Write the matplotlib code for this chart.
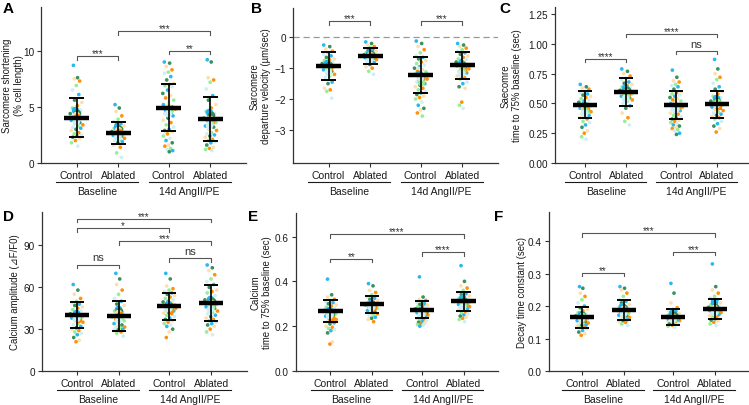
import matplotlib
matplotlib.use('Agg')
import matplotlib.pyplot as plt
import numpy as np

plt.rcParams['font.family'] = ['Liberation Sans', 'DejaVu Sans']

# ---------------- data ----------------
group_labels = ['Control', 'Ablated', 'Control', 'Ablated']
condition_labels = ['Baseline', '14d AngII/PE']
xpos = [1.0, 2.0, 3.2, 4.2]

# Panel A: sarcomere shortening (% cell length)
A_ctrl_base = [8.7, 7.6, 7.5, 7.3, 6.9, 6.5, 6.1, 5.6, 5.4, 5.1, 4.9, 4.7, 4.5, 4.4, 4.3, 4.1, 4.0, 3.9,
               3.8, 3.6, 3.5, 3.4, 3.3, 3.2, 3.1, 3.0, 2.9, 2.7, 2.6, 2.5, 2.4, 2.3, 2.2, 2.0, 1.8, 1.5]
A_abl_base = [5.2, 4.9, 4.6, 4.2, 3.9, 3.7, 3.5, 3.4, 3.3, 3.2, 3.1, 3.0, 2.9, 2.8, 2.75, 2.7, 2.6, 2.5,
              2.45, 2.4, 2.3, 2.2, 2.1, 2.0, 1.9, 1.8, 1.6, 1.4, 0.9, 0.5]
A_ctrl_ang = [9.0, 8.9, 8.6, 8.3, 8.1, 8.0, 7.7, 7.4, 7.1, 7.0, 6.9, 6.8, 6.5, 6.2, 6.0, 5.8, 5.6, 5.4,
              5.2, 5.0, 4.9, 4.8, 4.6, 4.4, 4.2, 4.0, 3.8, 3.6, 3.4, 3.2, 3.0, 2.9, 2.8, 2.6, 2.4, 2.2,
              2.0, 1.8, 1.6, 1.5, 1.3, 1.2, 1.1, 1.0]
A_abl_ang = [9.2, 9.0, 7.6, 7.4, 7.2, 6.6, 6.0, 5.6, 5.2, 4.9, 4.6, 4.4, 4.2, 4.0, 3.9, 3.8, 3.6, 3.5,
             3.3, 3.2, 3.0, 2.9, 2.7, 2.6, 2.5, 2.4, 2.3, 2.1, 2.0, 1.9, 1.8, 1.6, 1.4, 1.3, 1.2, 1.1]
A_mean = [4.05, 2.70, 4.92, 3.94]
A_sd = [1.71, 0.97, 2.10, 1.96]

# Panel B: sarcomere departure velocity (um/sec)
B_ctrl_base = [-0.25, -0.3, -0.38, -0.45, -0.5, -0.55, -0.6, -0.65, -0.7, -0.72, -0.75, -0.8, -0.82,
               -0.85, -0.9, -0.92, -0.95, -1.0, -1.05, -1.1, -1.15, -1.2, -1.25, -1.3, -1.45, -1.5,
               -1.65, -1.7, -1.75, -1.97]
B_abl_base = [-0.15, -0.2, -0.25, -0.3, -0.33, -0.36, -0.4, -0.42, -0.45, -0.48, -0.5, -0.52, -0.55,
              -0.57, -0.58, -0.6, -0.62, -0.64, -0.66, -0.68, -0.7, -0.72, -0.75, -0.78, -0.82,
              -0.88, -0.95, -1.0, -1.1, -1.2]
B_ctrl_ang = [-0.12, -0.2, -0.3, -0.4, -0.5, -0.6, -0.65, -0.7, -0.75, -0.8, -0.85, -0.9, -0.95, -1.0,
              -1.05, -1.1, -1.12, -1.15, -1.2, -1.25, -1.3, -1.35, -1.4, -1.45, -1.5, -1.55, -1.6,
              -1.65, -1.7, -1.75, -1.8, -1.85, -1.9, -1.95, -2.0, -2.1, -2.2, -2.3, -2.35, -2.45,
              -2.55, -1.0, -1.2, -1.4]
B_abl_ang = [-0.2, -0.25, -0.3, -0.35, -0.4, -0.45, -0.5, -0.55, -0.6, -0.65, -0.7, -0.72, -0.75,
             -0.8, -0.82, -0.85, -0.88, -0.9, -0.92, -0.95, -1.0, -1.02, -1.05, -1.1, -1.15, -1.2,
             -1.25, -1.3, -1.35, -1.45, -1.5, -1.6, -1.65, -2.1, -2.2, -2.3]
B_mean = [-0.93, -0.59, -1.22, -0.91]
B_sd = [0.44, 0.26, 0.58, 0.45]

# Panel C: sarcomere time to 75% baseline (sec)
C_ctrl_base = [0.66, 0.64, 0.63, 0.62, 0.6, 0.59, 0.58, 0.57, 0.56, 0.55, 0.54, 0.53, 0.52, 0.51,
               0.5, 0.49, 0.48, 0.47, 0.46, 0.45, 0.44, 0.43, 0.42, 0.41, 0.4, 0.39, 0.38, 0.37,
               0.35, 0.34, 0.32, 0.3, 0.27, 0.25, 0.22, 0.2]
C_abl_base = [0.79, 0.77, 0.75, 0.73, 0.71, 0.7, 0.68, 0.67, 0.66, 0.65, 0.64, 0.63, 0.62, 0.61,
              0.6, 0.59, 0.58, 0.57, 0.56, 0.55, 0.54, 0.53, 0.52, 0.5, 0.48, 0.46, 0.42, 0.38,
              0.35, 0.32]
C_ctrl_ang = [0.78, 0.72, 0.69, 0.68, 0.66, 0.65, 0.64, 0.62, 0.6, 0.59, 0.58, 0.57, 0.56, 0.55,
              0.54, 0.53, 0.52, 0.51, 0.5, 0.49, 0.48, 0.47, 0.46, 0.45, 0.44, 0.43, 0.42, 0.41,
              0.4, 0.39, 0.38, 0.37, 0.36, 0.35, 0.34, 0.33, 0.32, 0.31, 0.3, 0.29, 0.28, 0.27,
              0.25, 0.24]
C_abl_ang = [0.87, 0.79, 0.75, 0.72, 0.7, 0.67, 0.64, 0.62, 0.6, 0.58, 0.56, 0.55, 0.54, 0.52,
             0.51, 0.5, 0.49, 0.48, 0.47, 0.46, 0.45, 0.44, 0.43, 0.42, 0.41, 0.4, 0.39, 0.38,
             0.37, 0.35, 0.33, 0.31, 0.29, 0.26]
C_mean = [0.49, 0.595, 0.49, 0.493]
C_sd = [0.112, 0.115, 0.118, 0.113]

# Panel D: calcium amplitude
D_ctrl_base = [62, 58, 55, 52, 50, 49, 48, 47, 46, 45, 44, 43, 42, 41, 40.5, 40, 39, 38.5, 38, 37,
               36, 35, 34, 33, 32, 31, 30, 29, 28, 27, 26, 24, 22, 21]
D_abl_base = [70, 66, 62, 58, 55, 52, 50, 48, 47, 45, 43, 42, 40, 39, 38, 37, 36, 35, 34, 33, 32,
              31.5, 31, 30.5, 30, 29.5, 29, 28, 27, 25]
D_ctrl_ang = [70, 66, 61, 59, 58, 57, 56, 55, 54, 53, 52, 51, 50, 49.5, 49, 48, 47.5, 47, 46.5, 46,
              45.5, 45, 44, 43.5, 43, 42, 41.5, 41, 40, 39, 38, 37, 36, 35, 34, 33, 32, 30, 28, 24]
D_abl_ang = [76, 74, 72, 69, 66, 64, 62, 60, 58, 57, 56, 54, 52, 51, 50, 49, 48, 47, 46, 45, 44,
             43, 42, 41, 40, 39, 38, 37, 36, 35, 34, 33, 32, 30, 28, 26]
D_mean = [40.0, 39.5, 46.3, 48.8]
D_sd = [9.2, 10.8, 9.5, 13.0]

# Panel E: calcium time to 75% baseline (sec)
E_ctrl_base = [0.41, 0.34, 0.33, 0.32, 0.315, 0.31, 0.305, 0.3, 0.295, 0.29, 0.285, 0.28, 0.275,
               0.27, 0.265, 0.26, 0.255, 0.25, 0.245, 0.24, 0.235, 0.23, 0.225, 0.22, 0.215, 0.21,
               0.2, 0.195, 0.19, 0.185, 0.18, 0.17, 0.13, 0.12]
E_abl_base = [0.39, 0.38, 0.36, 0.35, 0.34, 0.33, 0.325, 0.32, 0.315, 0.31, 0.305, 0.3, 0.298,
              0.295, 0.29, 0.285, 0.28, 0.275, 0.27, 0.265, 0.26, 0.255, 0.25, 0.245, 0.24, 0.235,
              0.23, 0.22]
E_ctrl_ang = [0.42, 0.33, 0.32, 0.315, 0.31, 0.305, 0.3, 0.297, 0.294, 0.29, 0.287, 0.284, 0.28,
              0.277, 0.274, 0.27, 0.267, 0.264, 0.26, 0.257, 0.254, 0.25, 0.247, 0.244, 0.24,
              0.237, 0.234, 0.23, 0.227, 0.224, 0.22, 0.217, 0.214, 0.21, 0.207, 0.204, 0.2, 0.26]
E_abl_ang = [0.47, 0.4, 0.38, 0.37, 0.36, 0.35, 0.345, 0.34, 0.335, 0.33, 0.325, 0.32, 0.317,
             0.314, 0.31, 0.307, 0.304, 0.3, 0.297, 0.294, 0.29, 0.287, 0.284, 0.28, 0.277, 0.274,
             0.27, 0.265, 0.26, 0.255, 0.25, 0.245, 0.24, 0.235, 0.23, 0.22]
E_mean = [0.268, 0.298, 0.274, 0.311]
E_sd = [0.050, 0.038, 0.038, 0.043]

# Panel F: decay time constant (sec)
F_ctrl_base = [0.26, 0.255, 0.24, 0.23, 0.22, 0.21, 0.2, 0.195, 0.19, 0.185, 0.18, 0.177, 0.174,
               0.17, 0.167, 0.164, 0.161, 0.158, 0.155, 0.152, 0.15, 0.148, 0.146, 0.144, 0.142,
               0.14, 0.138, 0.136, 0.134, 0.13, 0.125, 0.12, 0.115, 0.11]
F_abl_base = [0.26, 0.255, 0.25, 0.24, 0.23, 0.22, 0.215, 0.21, 0.205, 0.2, 0.197, 0.194, 0.19,
              0.187, 0.184, 0.181, 0.178, 0.175, 0.172, 0.17, 0.168, 0.165, 0.162, 0.16, 0.158,
              0.155, 0.152, 0.15, 0.145, 0.14]
F_ctrl_ang = [0.27, 0.24, 0.21, 0.195, 0.19, 0.187, 0.184, 0.181, 0.178, 0.176, 0.174, 0.172, 0.17,
              0.168, 0.166, 0.164, 0.162, 0.16, 0.158, 0.157, 0.156, 0.155, 0.154, 0.153, 0.152,
              0.151, 0.15, 0.149, 0.148, 0.147, 0.146, 0.145, 0.143, 0.141, 0.138, 0.135]
F_abl_ang = [0.33, 0.26, 0.25, 0.24, 0.23, 0.225, 0.22, 0.215, 0.21, 0.207, 0.204, 0.2, 0.198,
             0.196, 0.194, 0.192, 0.19, 0.188, 0.186, 0.184, 0.182, 0.18, 0.178, 0.176, 0.174,
             0.172, 0.17, 0.168, 0.165, 0.162, 0.16, 0.157, 0.154, 0.15, 0.145, 0.14]
F_mean = [0.165, 0.187, 0.166, 0.192]
F_sd = [0.031, 0.031, 0.024, 0.031]

# significance brackets: (group i, group j, y, label)
A_sig = [(0, 1, 9.5, '***'), (1, 3, 11.75, '***'), (2, 3, 10.0, '**')]
B_sig = [(0, 1, 0.52, '***'), (2, 3, 0.52, '***')]
C_sig = [(0, 1, 0.875, '****'), (1, 3, 1.085, '****'), (2, 3, 0.94, 'ns')]
D_sig = [(0, 3, 109.0, '***'), (0, 2, 102.5, '*'), (1, 3, 93.0, '***'), (0, 1, 76.3, 'ns'), (2, 3, 81.0, 'ns')]
E_sig = [(0, 1, 0.50, '**'), (0, 3, 0.611, '****'), (2, 3, 0.529, '****')]
F_sig = [(0, 1, 0.303, '**'), (0, 3, 0.424, '***'), (2, 3, 0.368, '***')]

A_ylabel = 'Sarcomere shortening\n(% cell length)'
B_ylabel = 'Sarcomere\ndeparture velocity (\u00b5m/sec)'
C_ylabel = 'Saecomre\ntime to 75% baseline (sec)'
D_ylabel = 'Calcium amplitude (\u22bfF/F0)'
E_ylabel = 'Calcium\ntime to 75% baseline (sec)'
F_ylabel = 'Decay time constant (sec)'

# ---------------- style ----------------
palette = ['#1FB4F0', '#2E8B57', '#FFDDA8', '#FF8C00', '#90EE90', '#CDEFF6']
W, H = 749, 406
fig = plt.figure(figsize=(W / 100, H / 100), dpi=100)

panels = [
    dict(letter='A', box=(41, 8, 246, 164), xlim=(0.15, 5.05), ylim=(0, 13.9), yticks=[0, 5, 10],
         yfmt='{:g}', data=[A_ctrl_base, A_abl_base, A_ctrl_ang, A_abl_ang], mean=A_mean, sd=A_sd,
         sig=A_sig, ylabel=A_ylabel, lblx=13, lpos=(3, 2), dashed=False),
    dict(letter='B', box=(293, 9, 498, 164), xlim=(0.15, 5.05), ylim=(-4.07, 0.95), yticks=[-3, -2, -1, 0],
         yfmt='{:g}', data=[B_ctrl_base, B_abl_base, B_ctrl_ang, B_abl_ang], mean=B_mean, sd=B_sd,
         sig=B_sig, ylabel=B_ylabel, lblx=260, lpos=(251, 2), dashed=True),
    dict(letter='C', box=(555, 8, 748, 164), xlim=(0.27, 4.95), ylim=(0, 1.31),
         yticks=[0, 0.25, 0.5, 0.75, 1.0, 1.25], yfmt='{:.2f}',
         data=[C_ctrl_base, C_abl_base, C_ctrl_ang, C_abl_ang], mean=C_mean, sd=C_sd,
         sig=C_sig, ylabel=C_ylabel, lblx=511, lpos=(499, 2), dashed=False),
    dict(letter='D', box=(42, 213, 247, 372), xlim=(0.17, 5.05), ylim=(0, 114), yticks=[0, 30, 60, 90],
         yfmt='{:g}', data=[D_ctrl_base, D_abl_base, D_ctrl_ang, D_abl_ang], mean=D_mean, sd=D_sd,
         sig=D_sig, ylabel=D_ylabel, lblx=15, lpos=(3, 210), dashed=False),
    dict(letter='E', box=(296, 214, 498, 372), xlim=(0.17, 5.03), ylim=(0, 0.705), yticks=[0, 0.2, 0.4, 0.6],
         yfmt='{:.1f}', data=[E_ctrl_base, E_abl_base, E_ctrl_ang, E_abl_ang], mean=E_mean, sd=E_sd,
         sig=E_sig, ylabel=E_ylabel, lblx=261, lpos=(248, 210), dashed=False),
    dict(letter='F', box=(549, 213, 748, 372), xlim=(0.2, 5.0), ylim=(0, 0.49), yticks=[0, 0.1, 0.2, 0.3, 0.4],
         yfmt='{:.1f}', data=[F_ctrl_base, F_abl_base, F_ctrl_ang, F_abl_ang], mean=F_mean, sd=F_sd,
         sig=F_sig, ylabel=F_ylabel, lblx=522, lpos=(494, 210), dashed=False),
]

phi = 0.6180339887
spine_col = '#333333'
for p in panels:
    l, t, r, b = p['box']
    ax = fig.add_axes([l / W, 1 - b / H, (r - l) / W, (b - t) / H])
    ax.set_xlim(*p['xlim'])
    ax.set_ylim(*p['ylim'])
    yr = p['ylim'][1] - p['ylim'][0]
    for s in ['top', 'right']:
        ax.spines[s].set_visible(False)
    for s in ['left', 'bottom']:
        ax.spines[s].set_color(spine_col)
        ax.spines[s].set_linewidth(0.9)
    if p['dashed']:
        ax.axhline(0, color='#999999', lw=0.9, ls=(0, (5, 3)), zorder=1)
    for gi, vals in enumerate(p['data']):
        vals = np.asarray(vals, dtype=float)
        n = len(vals)
        idx = np.arange(n)
        # deterministic spread (low-discrepancy), narrower for values far from the centre
        frac = (idx * phi) % 1.0 - 0.5
        z = np.abs(vals - p['mean'][gi]) / (2.2 * p['sd'][gi])
        width = 0.17 * np.clip(1.0 - 0.45 * z, 0.35, 1.0)
        xs = xpos[gi] + frac * 2 * width
        cols = [palette[i % len(palette)] for i in idx]
        ax.scatter(xs, vals, s=7, c=cols, linewidths=0, alpha=0.95, zorder=2)
        # animal means (large dots)
        for ci, col in enumerate(palette):
            sel = vals[idx % len(palette) == ci]
            if len(sel):
                off = ((ci * phi) % 1.0 - 0.5) * 0.06
                ax.scatter([xpos[gi] + off], [sel.mean()], s=30, color=col, linewidths=0, zorder=3)
        m, sd = p['mean'][gi], p['sd'][gi]
        ax.plot([xpos[gi], xpos[gi]], [m - sd, m + sd], color='black', lw=1.2, zorder=4)
        for yy in (m - sd, m + sd):
            ax.plot([xpos[gi] - 0.17, xpos[gi] + 0.17], [yy, yy], color='black', lw=1.4, zorder=4,
                    solid_capstyle='butt')
        ax.plot([xpos[gi] - 0.29, xpos[gi] + 0.29], [m, m], color='black', lw=3.2, zorder=5,
                solid_capstyle='butt')
    for (i, j, yb, txt) in p['sig']:
        x1, x2 = xpos[i], xpos[j]
        d = 0.022 * yr
        ax.plot([x1, x1, x2, x2], [yb - d, yb, yb, yb - d], color='#555555', lw=0.8, zorder=1)
        if txt == 'ns':
            ax.annotate(txt, xy=((x1 + x2) / 2, yb), xytext=(0, 1.5), textcoords='offset points',
                        ha='center', va='bottom', fontsize=8, color='#333333')
        else:
            ax.annotate(txt, xy=((x1 + x2) / 2, yb), xytext=(0, -1.5), textcoords='offset points',
                        ha='center', va='bottom', fontsize=7, color='#333333')
    ax.set_yticks(p['yticks'])
    ax.set_yticklabels([p['yfmt'].format(v).replace('-', '\u2212') for v in p['yticks']])
    ax.set_xticks(xpos)
    ax.set_xticklabels(group_labels)
    ax.tick_params(axis='x', labelsize=7.5)
    ax.tick_params(axis='y', labelsize=7.2)
    ax.tick_params(axis='both', length=3, width=0.8, color=spine_col, pad=2, labelcolor='#1a1a1a')
    ax.set_ylabel(p['ylabel'], fontsize=6.9, color='#1a1a1a', va='center', linespacing=1.15)
    ax.yaxis.set_label_coords((p['lblx'] - l) / (r - l), 0.5)
    # condition group lines and labels below the axis
    hpx = (b - t)
    yline = -19.0 / hpx
    ytext = -28.5 / hpx
    for (g0, g1), lab in zip([(0, 1), (2, 3)], condition_labels):
        ax.plot([xpos[g0] - 0.48, xpos[g1] + 0.48], [yline, yline], transform=ax.get_xaxis_transform(),
                color='#1a1a1a', lw=0.8, clip_on=False)
        ax.text((xpos[g0] + xpos[g1]) / 2, ytext, lab, transform=ax.get_xaxis_transform(),
                ha='center', va='center', fontsize=7.5, color='#1a1a1a')
    lx, ly = p['lpos']
    fig.text(lx / W, 1 - ly / H, p['letter'], fontsize=11, fontweight='bold', ha='left', va='top')

fig.savefig('out.png', dpi=100)
